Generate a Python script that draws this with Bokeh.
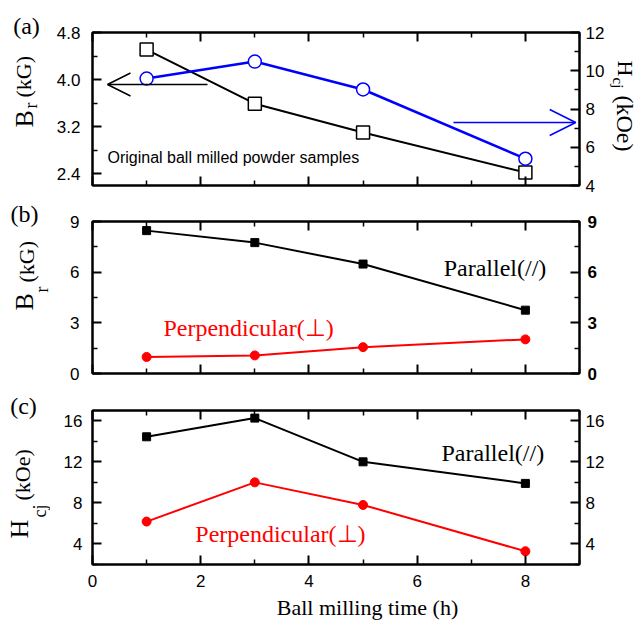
import math
from bokeh.plotting import figure
from bokeh.layouts import column, row
from bokeh.models import (Range1d, LinearAxis, FixedTicker, PrintfTickFormatter,
                          Label, Arrow, OpenHead)
from bokeh.core.properties import value
from bokeh.embed import file_html
from bokeh.resources import INLINE

# ---------------- data ----------------
time_h = [1, 3, 5, 8]

# panel (a): original ball milled powder
a_br = [4.51, 3.59, 3.10, 2.42]      # kG (left axis)
a_hcj = [9.59, 10.48, 9.02, 5.40]    # kOe (right axis)

# panel (b): Br of magnets
b_par = [8.46, 7.75, 6.48, 3.75]
b_perp = [0.98, 1.07, 1.56, 2.02]

# panel (c): Hcj of magnets
c_par = [14.44, 16.26, 12.00, 9.90]
c_perp = [6.18, 10.00, 7.80, 3.29]

x_ticks = [0, 2, 4, 6, 8]
x_minor = [1, 3, 5, 7, 9]
a_left_ticks = [2.4, 3.2, 4.0, 4.8]
a_left_minor = [2.8, 3.6, 4.4]
a_right_ticks = [4, 6, 8, 10, 12]
a_right_minor = [5, 7, 9, 11]
b_ticks = [0, 3, 6, 9]
b_minor = [1.5, 4.5, 7.5]
c_ticks = [4, 8, 12, 16]
c_minor = [2, 6, 10, 14]

BLUE = "#0000ff"
RED = "#ff0000"
SANS = "Liberation Sans"
SERIF = "Liberation Serif"

TOTAL_H = 621
LEFT_W = 50
RIGHT_X0 = 605
RIGHT_W = 637 - RIGHT_X0
B_LEFT = 42          # 50 + 42 = 92 -> frame left
FRAME_W = 487        # frame right at 579
B_RIGHT = RIGHT_X0 - 579
PANEL_W = B_LEFT + FRAME_W + B_RIGHT
BOTTOM_Y0 = 594


def make_fig(yr, fh, top, bottom):
    p = figure(x_range=Range1d(0, 9), y_range=Range1d(*yr),
               frame_width=FRAME_W, frame_height=fh,
               min_border_left=B_LEFT, min_border_right=B_RIGHT,
               min_border_top=top, min_border_bottom=bottom,
               x_axis_location=None, y_axis_location=None,
               toolbar_location=None, output_backend="svg",
               background_fill_color="white", border_fill_color="white",
               outline_line_color="black", outline_line_width=2)
    p.grid.visible = False
    return p


def strip(w, h):
    p = figure(x_range=Range1d(0, w), y_range=Range1d(0, h),
               frame_width=w, frame_height=h, min_border=0,
               x_axis_location=None, y_axis_location=None,
               toolbar_location=None, output_backend="svg",
               background_fill_color="white", border_fill_color="white",
               outline_line_color=None)
    p.grid.visible = False
    return p


def add_axis(p, side, ticks, minor, show=True, standoff=10, size="17px",
             bold=False, fmt=None, y_range_name=None, major_in=9, minor_in=5):
    kw = {}
    if y_range_name:
        kw["y_range_name"] = y_range_name
    ax = LinearAxis(ticker=FixedTicker(ticks=ticks, minor_ticks=minor), **kw)
    if fmt is not None:
        ax.formatter = fmt
    ax.axis_line_width = 2
    ax.axis_line_color = "black"
    ax.major_tick_in = major_in
    ax.major_tick_out = 0
    ax.minor_tick_in = minor_in
    ax.minor_tick_out = 0
    ax.major_tick_line_width = 2
    ax.minor_tick_line_width = 1.5
    if show:
        ax.major_label_text_font = SANS
        ax.major_label_text_font_size = size
        ax.major_label_text_color = "black"
        ax.major_label_standoff = standoff
        if bold:
            ax.major_label_text_font_style = "bold"
    else:
        ax.major_label_text_font_size = "1px"
        ax.major_label_text_color = None
        ax.major_label_standoff = 0
    p.add_layout(ax, side)
    return ax


def stext(p, x0, y0, h, px, py, text, size, angle=0.0, align="left",
          baseline="middle", font=SERIF, color="black"):
    """text in a strip figure; px, py are page pixel positions"""
    p.text(x=[px - x0], y=[h - (py - y0)], text=[text], angle=angle,
           text_align=align, text_baseline=baseline,
           text_font=value(font), text_font_size=f"{size}px",
           text_color=color)


def dlabel(p, x, y, text, size, font=SERIF, color="black"):
    p.add_layout(Label(x=x, y=y, text=text, text_align="left",
                       text_baseline="middle", text_font=font,
                       text_font_size=f"{size}px", text_color=color))


UP = math.pi / 2
DOWN = -math.pi / 2

# ---------------- panel (a) ----------------
pa = make_fig((2.2, 4.8), 153, 32, 18)
pa.extra_y_ranges = {"right": Range1d(4, 12)}
add_axis(pa, "below", x_ticks, x_minor, show=False)
add_axis(pa, "above", x_ticks, x_minor, show=False)
add_axis(pa, "left", a_left_ticks, a_left_minor, standoff=12,
         fmt=PrintfTickFormatter(format="%.1f"))
add_axis(pa, "right", a_right_ticks, a_right_minor, standoff=6,
         y_range_name="right")

pa.line(time_h, a_br, line_color="black", line_width=2)
pa.line(time_h, a_hcj, line_color=BLUE, line_width=2.5, y_range_name="right")
pa.scatter(time_h, a_br, marker="square", size=13, fill_color="white",
           line_color="black", line_width=1.5)
pa.scatter(time_h, a_hcj, marker="circle", size=13, fill_color="white",
           line_color=BLUE, line_width=1.5, y_range_name="right")

pa.add_layout(Arrow(end=OpenHead(size=23, line_color="black", line_width=1.5),
                    x_start=2.125, y_start=3.916, x_end=0.277, y_end=3.916,
                    line_color="black", line_width=1.5))
pa.add_layout(Arrow(end=OpenHead(size=26, line_color=BLUE, line_width=1.5),
                    x_start=6.67, y_start=3.271, x_end=8.93, y_end=3.271,
                    line_color=BLUE, line_width=1.5))

dlabel(pa, 0.277, 2.676, "Original ball milled powder samples", 16, font=SANS)

# ---------------- panel (b) ----------------
pb = make_fig((0, 9), 152, 18, 18)
add_axis(pb, "below", x_ticks, x_minor, show=False)
add_axis(pb, "above", x_ticks, x_minor, show=False)
add_axis(pb, "left", b_ticks, b_minor, standoff=13)
add_axis(pb, "right", b_ticks, b_minor, standoff=8, bold=True)

pb.line(time_h, b_par, line_color="black", line_width=2)
pb.line(time_h, b_perp, line_color=RED, line_width=2)
pb.scatter(time_h, b_par, marker="square", size=8, fill_color="black",
           line_color="black")
pb.scatter(time_h, b_perp, marker="circle", size=9, fill_color=RED,
           line_color=RED)

dlabel(pb, 6.49, 6.22, "Parallel(//)", 24)
dlabel(pb, 1.31, 2.72, "Perpendicular(\u22a5)", 24, color=RED)

# ---------------- panel (c) ----------------
pc = make_fig((2, 17), 154, 19, BOTTOM_Y0 - 564)
add_axis(pc, "below", x_ticks, x_minor, standoff=10)
add_axis(pc, "above", x_ticks, x_minor, show=False)
add_axis(pc, "left", c_ticks, c_minor, standoff=10)
add_axis(pc, "right", c_ticks, c_minor, standoff=6)

pc.line(time_h, c_par, line_color="black", line_width=2)
pc.line(time_h, c_perp, line_color=RED, line_width=2)
pc.scatter(time_h, c_par, marker="square", size=8, fill_color="black",
           line_color="black")
pc.scatter(time_h, c_perp, marker="circle", size=9, fill_color=RED,
           line_color=RED)

dlabel(pc, 6.45, 12.84, "Parallel(//)", 24)
dlabel(pc, 1.90, 4.93, "Perpendicular(\u22a5)", 24, color=RED)

# ---------------- label strips ----------------
ls = strip(LEFT_W, TOTAL_H)
L = (ls, 0, 0, TOTAL_H)
stext(*L, 26, 25, "(a)", 24, align="center")
stext(*L, 24, 127, "B", 26, angle=UP)
stext(*L, 30, 108, "r", 18, angle=UP)
stext(*L, 23, 97, "(kG)", 22, angle=UP)

stext(*L, 24, 213, "(b)", 24, align="center")
stext(*L, 24, 310, "B", 26, angle=UP)
stext(*L, 41, 292, "r", 18, angle=UP)
stext(*L, 26, 282, "(kG)", 22, angle=UP)

stext(*L, 23, 405, "(c)", 24, align="center")
stext(*L, 19, 538, "H", 26, angle=UP)
stext(*L, 39, 517, "cj", 18, angle=UP)
stext(*L, 22, 500, "(kOe)", 22, angle=UP)

rs = strip(RIGHT_W, TOTAL_H)
R = (rs, RIGHT_X0, 0, TOTAL_H)
stext(*R, 623, 60, "H", 22, angle=DOWN)
stext(*R, 615, 77, "cj", 15, angle=DOWN)
stext(*R, 622, 95, "(kOe)", 24, angle=DOWN)

bs = strip(PANEL_W, TOTAL_H - BOTTOM_Y0)
B = (bs, LEFT_W, BOTTOM_Y0, TOTAL_H - BOTTOM_Y0)
stext(*B, 325, 607, "Ball milling time (h)", 22, align="center")

layout = row(ls, column(pa, pb, pc, bs, spacing=0), rs, spacing=0)

with open("out.html", "w") as f:
    f.write(file_html(layout, INLINE))
